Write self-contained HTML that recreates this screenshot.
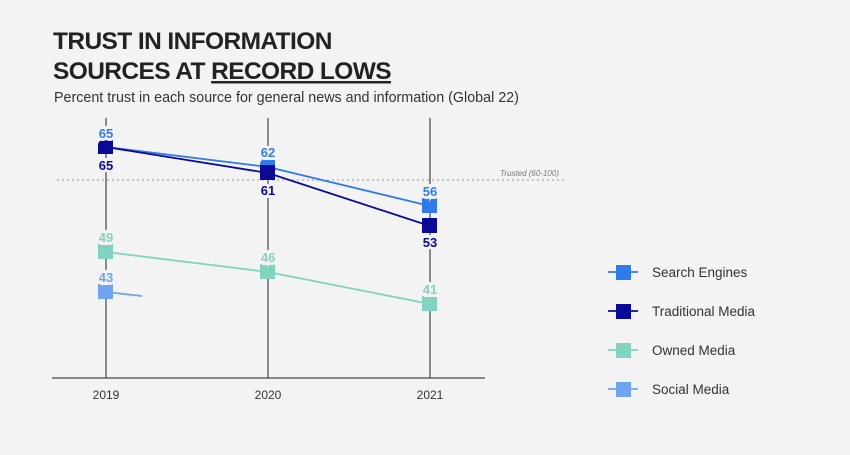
<!DOCTYPE html>
<html><head><style>
body{margin:0;background:#f3f3f3;}
svg{display:block;font-family:"Liberation Sans",sans-serif;}
.l{paint-order:stroke;stroke:#f3f3f3;stroke-width:6px;font-weight:bold;font-size:13px;text-anchor:middle}
</style></head><body>
<svg width="850" height="455" viewBox="0 0 850 455">
<rect width="850" height="455" fill="#f3f3f3"/>
<text x="53" y="49" font-size="24.5" font-weight="bold" fill="#222" letter-spacing="-0.6">TRUST IN INFORMATION</text>
<text x="53" y="79" font-size="24.5" font-weight="bold" fill="#222" letter-spacing="-0.6">SOURCES AT <tspan text-decoration="underline">RECORD LOWS</tspan></text>
<text x="54" y="102" font-size="14.3" fill="#333">Percent trust in each source for general news and information (Global 22)</text>
<g stroke="#444" stroke-width="1.2">
<line x1="106" y1="118" x2="106" y2="378"/>
<line x1="268" y1="118" x2="268" y2="378"/>
<line x1="430" y1="118" x2="430" y2="378"/>
<line x1="52" y1="378" x2="485" y2="378"/>
</g>
<line x1="57" y1="180" x2="565" y2="180" stroke="#999" stroke-dasharray="2,3"/>
<text x="500" y="176" font-size="8" font-style="italic" fill="#777">Trusted (60-100)</text>
<polyline points="106,147 268,167 430,206" fill="none" stroke="#2f7be8" stroke-width="1.8"/>
<polyline points="106,147 268,173 430,226" fill="none" stroke="#0a0a96" stroke-width="1.8"/>
<polyline points="106,252 268,272 430,304" fill="none" stroke="#7fd3c0" stroke-width="1.8"/>
<polyline points="106,292 142,296" fill="none" stroke="#6fa4ef" stroke-width="1.8"/>
<g>
<rect x="260" y="159" width="15" height="15" fill="#2f7be8"/>
<rect x="422" y="198" width="15" height="15" fill="#2f7be8"/>
<rect x="98" y="139" width="15" height="15" fill="#0a0a96"/>
<rect x="260" y="165" width="15" height="15" fill="#0a0a96"/>
<rect x="422" y="218" width="15" height="15" fill="#0a0a96"/>
<rect x="98" y="244" width="15" height="15" fill="#7fd3c0"/>
<rect x="260" y="264" width="15" height="15" fill="#7fd3c0"/>
<rect x="422" y="296" width="15" height="15" fill="#7fd3c0"/>
<rect x="98" y="284" width="15" height="15" fill="#6fa4ef"/>
</g>
<text class="l" x="106" y="138" fill="#2f7be8">65</text>
<text class="l" x="106" y="170" fill="#0a0a96">65</text>
<text class="l" x="268" y="157" fill="#2f7be8">62</text>
<text class="l" x="268" y="195" fill="#0a0a96">61</text>
<text class="l" x="430" y="196" fill="#2f7be8">56</text>
<text class="l" x="430" y="247" fill="#0a0a96">53</text>
<text class="l" x="106" y="242" fill="#7fd3c0">49</text>
<text class="l" x="268" y="262" fill="#7fd3c0">46</text>
<text class="l" x="430" y="294" fill="#7fd3c0">41</text>
<text class="l" x="106" y="282" fill="#6fa4ef">43</text>
<g font-size="12" fill="#333" text-anchor="middle">
<text x="106" y="399">2019</text><text x="268" y="399">2020</text><text x="430" y="399">2021</text>
</g>
<g font-size="13.5" fill="#333">
<line x1="608" y1="272" x2="638" y2="272" stroke="#2f7be8" stroke-width="1.8"/><rect x="616" y="265" width="15" height="15" fill="#2f7be8"/><text x="652" y="277">Search Engines</text>
<line x1="608" y1="311" x2="638" y2="311" stroke="#0a0a96" stroke-width="1.8"/><rect x="616" y="304" width="15" height="15" fill="#0a0a96"/><text x="652" y="316">Traditional Media</text>
<line x1="608" y1="350" x2="638" y2="350" stroke="#7fd3c0" stroke-width="1.8"/><rect x="616" y="343" width="15" height="15" fill="#7fd3c0"/><text x="652" y="355">Owned Media</text>
<line x1="608" y1="389" x2="638" y2="389" stroke="#6fa4ef" stroke-width="1.8"/><rect x="616" y="382" width="15" height="15" fill="#6fa4ef"/><text x="652" y="394">Social Media</text>
</g>
</svg>
</body></html>
